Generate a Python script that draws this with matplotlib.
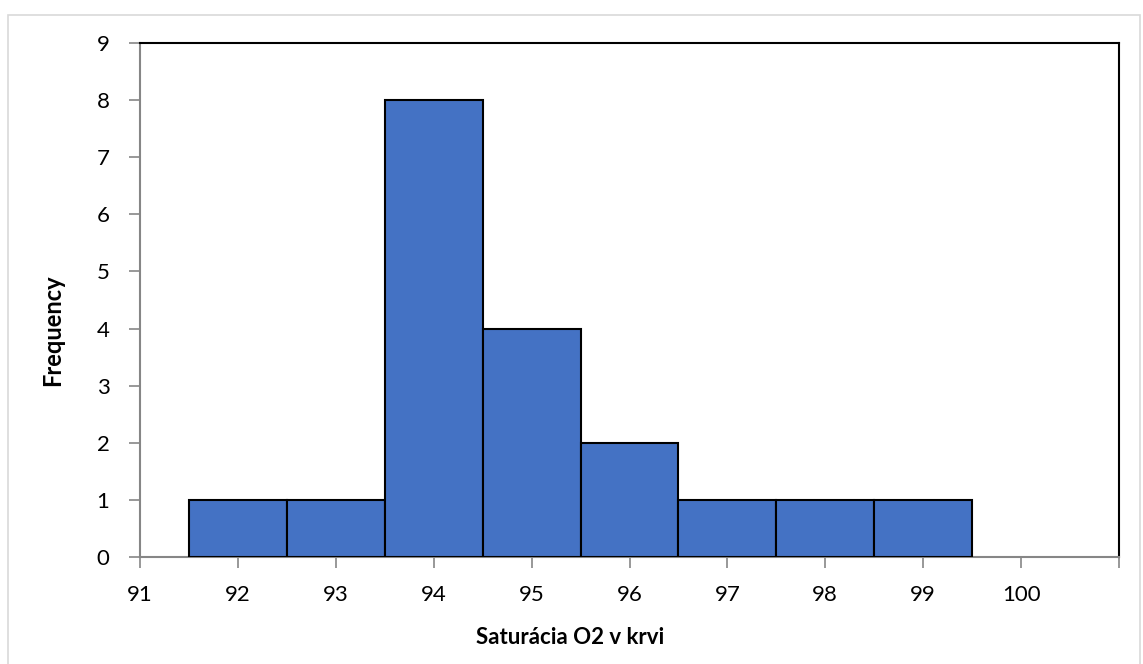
import numpy as np
import matplotlib
matplotlib.use('Agg')
import matplotlib.pyplot as plt
from matplotlib.patches import Rectangle

# data
bin_centers = [92, 93, 94, 95, 96, 97, 98, 99]
counts = [1, 1, 8, 4, 2, 1, 1, 1]
x_ticks = [91, 92, 93, 94, 95, 96, 97, 98, 99, 100, 101]
x_tick_labels = ['91', '92', '93', '94', '95', '96', '97', '98', '99', '100', '']
y_ticks = [0, 1, 2, 3, 4, 5, 6, 7, 8, 9]

plt.rcParams['font.family'] = ['Lato', 'DejaVu Sans']

W, H = 1143, 664
fig = plt.figure(figsize=(W / 100, H / 100), dpi=100)
# outer chart frame
fig.patches.append(Rectangle((8 / W, -0.02), 1132 / W, 1 - 15 / H + 0.02,
                             transform=fig.transFigure, fill=False,
                             edgecolor='#D9D9D9', linewidth=1.2))

ax = fig.add_axes([140 / W, 1 - 557 / H, 979 / W, 514 / H])
ax.bar(bin_centers, counts, width=1.0, color='#4472C4', edgecolor='black', linewidth=1.5, zorder=3)

ax.set_xlim(91, 101)
ax.set_ylim(0, 9)
ax.set_xticks(x_ticks)
ax.set_xticklabels(x_tick_labels)
ax.set_yticks(y_ticks)

for s in ['left', 'bottom']:
    ax.spines[s].set_color('#868686')
    ax.spines[s].set_linewidth(1.5)
for s in ['top', 'right']:
    ax.spines[s].set_color('black')
    ax.spines[s].set_linewidth(1.5)

ax.tick_params(axis='both', direction='out', length=8, width=1.2, color='#868686',
               labelsize=16, labelcolor='black')
ax.tick_params(axis='x', pad=12)
ax.tick_params(axis='y', pad=14)

# axis titles (placed like in the Excel chart)
fig.text(570 / W, 1 - 638 / H, 'Saturácia O2 v krvi', fontsize=16, fontweight='bold',
         ha='center', va='center')
fig.text(53 / W, 1 - 330 / H, 'Frequency', fontsize=17, fontweight='bold',
         ha='center', va='center', rotation=90)

fig.savefig('out.png', dpi=100)
